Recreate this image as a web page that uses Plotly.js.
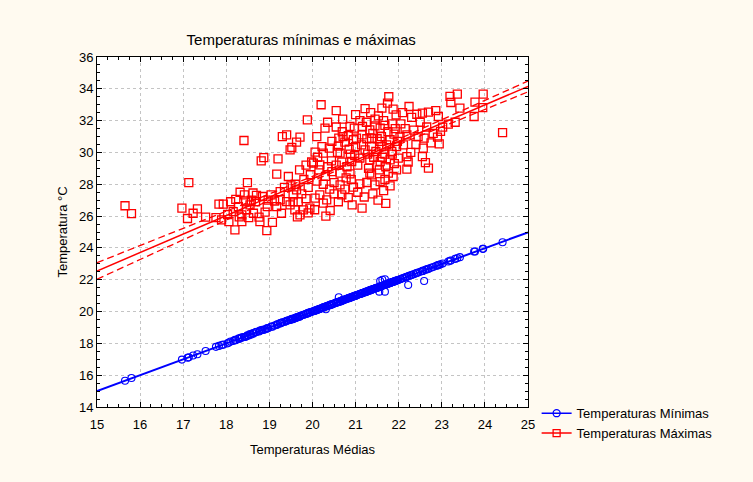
<!DOCTYPE html>
<html>
<head>
<meta charset="utf-8">
<script src="https://cdn.plot.ly/plotly-3.0.1.min.js"></script>
<style>html,body{margin:0;padding:0;background:#FFFAF0;}#chart{width:753px;height:482px;}</style>
</head>
<body>
<div id="chart"></div>
<script>
// Temperaturas médias (eixo X)
const meanTemp = [
15.65,15.80,16.97,17.13,17.10,17.23,17.33,17.52,17.83,17.93,17.76,17.89,
18.06,18.20,18.16,18.28,18.32,18.42,18.49,18.41,18.81,18.87,18.36,18.36,18.47,18.55,18.63,18.76,18.78,18.84,18.94,18.95,18.10,18.22,18.58,18.68,18.70,18.52,18.90,18.30,18.62,18.45,18.03,18.97,
19.04,19.07,19.17,19.17,19.25,19.25,19.28,19.44,19.40,19.48,19.55,19.59,19.63,19.67,19.71,19.63,19.52,19.88,19.30,19.40,19.79,19.71,19.94,19.55,19.85,19.75,19.90,19.60,19.80,19.95,19.70,19.85,19.50,19.35,19.12,19.65,19.98,19.20,19.48,19.90,
20.02,20.17,20.44,20.68,20.91,20.06,20.25,20.64,20.22,20.39,20.71,20.83,20.75,20.69,20.87,20.97,20.29,20.20,20.55,21.00,20.41,20.25,20.33,20.17,20.06,20.68,20.83,20.95,20.87,20.64,20.64,20.10,20.30,20.50,20.45,20.15,20.35,20.55,20.80,20.90,20.75,20.50,20.60,20.92,20.05,20.45,20.60,20.85,20.10,20.55,20.35,20.70,20.95,20.25,20.40,20.78,20.98,20.12,20.58,20.88,20.61,20.31,
21.10,21.33,21.57,21.80,21.99,21.00,21.14,21.22,21.37,21.47,21.61,21.72,21.84,21.95,21.16,21.33,21.45,21.57,21.68,21.26,21.37,21.50,21.89,21.77,21.74,21.61,21.53,21.87,21.94,21.22,21.10,21.26,21.45,21.57,21.37,21.76,21.95,21.33,21.87,21.05,21.20,21.40,21.65,21.80,21.15,21.52,21.70,21.30,21.50,21.70,21.90,21.05,21.15,21.40,21.60,21.80,21.25,21.45,21.65,21.85,21.10,21.35,21.57,21.68,21.62,21.55,21.68,21.75,21.92,21.02,21.28,21.42,21.85,21.97,
22.03,22.19,22.11,22.19,22.09,22.24,22.05,22.30,22.42,22.55,22.69,22.86,22.92,22.57,22.55,22.62,22.69,22.28,22.19,22.22,22.59,22.35,22.45,22.65,22.80,22.15,22.40,22.50,22.75,22.90,22.94,22.97,
23.02,23.15,23.31,23.19,23.36,23.21,23.42,23.77,23.96,23.95,23.75,24.41
];
// Temperaturas máximas (quadrados vermelhos)
const maxTemp = [
26.65,26.15,26.50,28.10,25.85,26.18,26.45,25.93,26.75,26.75,25.90,25.76,
25.65,25.13,26.28,26.60,27.50,27.33,28.10,30.75,29.47,29.68,26.08,25.65,26.39,26.70,26.18,25.93,25.65,27.23,25.09,26.60,26.90,27.05,27.00,26.90,27.30,25.90,26.25,25.95,27.45,26.95,26.10,27.00,
27.33,25.60,28.64,26.60,27.02,27.54,26.18,28.49,26.91,26.70,27.33,26.39,27.65,26.91,30.96,30.65,30.31,32.05,31.00,31.10,26.39,26.08,26.50,26.91,27.10,27.40,27.80,28.00,28.30,28.60,28.90,29.20,27.90,27.80,26.95,25.95,29.40,29.60,30.16,26.20,
29.33,29.22,29.47,29.39,29.43,30.02,29.96,29.96,30.37,30.27,31.00,31.06,30.65,31.30,31.63,31.53,31.53,33.00,32.63,32.38,26.35,26.81,27.02,27.33,27.13,27.33,27.16,27.82,28.65,27.96,28.70,28.20,28.50,28.10,28.80,28.90,29.10,29.20,29.10,28.30,27.70,27.40,26.90,26.70,26.40,30.70,30.40,30.20,31.00,31.60,31.90,32.10,30.80,28.00,27.70,28.40,29.80,29.70,30.00,29.90,30.90,26.00,
29.64,29.53,29.43,29.53,29.64,30.37,30.48,30.16,30.37,30.06,30.37,30.48,30.06,30.37,31.63,31.42,31.67,31.53,31.70,30.86,30.90,30.86,31.15,33.50,33.10,32.79,32.30,32.72,32.36,32.75,28.03,28.11,27.96,28.17,28.59,28.70,28.90,28.70,28.49,27.50,27.20,27.40,27.60,27.90,26.50,27.00,26.80,29.00,29.20,29.10,29.30,29.20,31.10,31.20,31.00,30.80,31.90,32.10,32.00,31.80,32.00,32.50,30.70,29.90,29.70,28.90,28.30,31.30,31.50,30.90,29.90,29.70,29.90,30.70,
30.96,31.10,30.48,29.74,32.50,32.89,31.80,32.20,32.40,32.47,32.53,32.63,32.26,30.27,29.74,29.36,29.01,30.00,28.95,29.40,30.90,31.40,31.00,31.60,31.20,31.50,30.50,31.90,30.60,30.96,30.54,31.32,
31.59,31.78,31.90,33.52,33.67,33.14,32.79,33.16,33.67,32.82,32.26,31.25
];
// Temperaturas mínimas (círculos azuis)
const minTemp = [
15.65,15.82,16.98,17.12,17.10,17.24,17.32,17.52,17.84,17.92,17.78,17.90,
18.05,18.22,18.15,18.30,18.33,18.40,18.50,18.40,18.82,18.85,18.38,18.35,18.45,18.58,18.62,18.75,18.80,18.85,18.92,18.96,18.12,18.20,18.55,18.70,18.72,18.50,18.88,18.28,18.65,18.42,18.00,18.95,
19.05,19.05,19.18,19.15,19.25,19.27,19.30,19.45,19.42,19.47,19.52,19.58,19.62,19.65,19.70,19.62,19.55,19.88,19.32,19.40,19.80,19.72,19.95,19.55,19.85,19.77,19.90,19.60,19.80,19.96,19.68,19.86,19.50,19.35,19.12,19.65,19.98,19.22,19.48,19.92,
20.02,20.16,20.45,20.68,20.90,20.05,20.26,20.65,20.22,20.40,20.72,20.82,20.76,20.70,20.88,20.98,20.30,20.20,20.55,21.00,20.40,20.25,20.35,20.18,20.05,20.68,20.85,20.95,20.86,20.65,20.62,20.10,20.30,20.50,20.46,20.15,20.35,20.56,20.80,20.90,20.75,20.50,20.60,20.93,20.06,20.45,20.62,20.85,20.10,20.56,20.36,20.70,20.96,20.25,20.42,20.78,20.98,20.12,20.58,20.88,20.90,20.14,
21.10,21.33,21.56,21.80,21.98,21.00,21.14,21.22,21.38,21.47,21.62,21.72,21.84,21.95,21.16,21.34,21.45,21.57,21.68,21.26,21.37,21.50,21.88,21.77,21.74,21.61,21.52,21.87,21.94,21.22,21.10,21.26,21.45,21.58,21.37,21.76,21.95,21.33,21.87,21.05,21.20,21.40,21.65,21.80,21.15,21.52,21.70,21.30,21.50,21.70,21.90,21.05,21.15,21.40,21.60,21.80,21.25,21.45,21.65,21.85,21.10,21.35,21.92,22.03,22.00,21.25,21.25,21.75,21.92,21.02,21.28,21.42,21.85,21.97,
22.03,22.19,22.11,22.19,22.09,22.24,22.05,22.30,22.42,22.55,22.69,22.86,22.92,22.57,22.55,22.62,22.69,22.28,22.19,21.67,21.92,22.35,22.45,22.65,22.80,22.15,22.40,22.50,22.75,22.90,22.94,22.97,
23.02,23.15,23.31,23.19,23.36,23.21,23.42,23.77,23.94,23.94,23.77,24.36
];
// Retas de regressão e intervalos de confiança
const fitX      = [15, 16, 17, 18, 19, 20, 21, 22, 23, 24, 25];
const maxFit    = [22.55,23.71,24.87,26.03,27.19,28.35,29.51,30.67,31.83,32.99,34.15];
const maxUpper  = [23.07,24.14,25.22,26.30,27.39,28.50,29.64,30.84,32.04,33.26,34.49];
const maxLower  = [22.03,23.28,24.52,25.76,26.99,28.20,29.38,30.50,31.62,32.72,33.81];
const minFitX   = [15, 25];
const minFit    = [15.00, 24.98];

const xTicks = [15,16,17,18,19,20,21,22,23,24,25];
const yTicks = [14,16,18,20,22,24,26,28,30,32,34,36];
const seriesNames = ['Temperaturas Mínimas', 'Temperaturas Máximas'];

const RED = '#FF0000', BLUE = '#0000FF';
const font = 'Liberation Sans, Arial, sans-serif';

const traces = [
  {x: meanTemp, y: maxTemp, mode: 'markers', type: 'scatter', showlegend: false,
   marker: {symbol: 'square-open', size: 8, color: RED, line: {width: 1.3, color: RED}}},
  {x: fitX, y: maxFit, mode: 'lines', showlegend: false, line: {color: RED, width: 1.5}},
  {x: fitX, y: maxUpper, mode: 'lines', showlegend: false, line: {color: RED, width: 1.3, dash: '7px,4px'}},
  {x: fitX, y: maxLower, mode: 'lines', showlegend: false, line: {color: RED, width: 1.3, dash: '7px,4px'}},
  {x: meanTemp, y: minTemp, mode: 'markers', type: 'scatter', showlegend: false,
   marker: {symbol: 'circle-open', size: 7, color: BLUE, line: {width: 1.1, color: BLUE}}},
  {x: minFitX, y: minFit, mode: 'lines', showlegend: false, line: {color: BLUE, width: 2}},
  {x: [null], y: [null], mode: 'lines+markers', name: seriesNames[0],
   line: {color: BLUE, width: 1.5}, marker: {symbol: 'circle-open', size: 7, color: BLUE, line: {width: 1.3, color: BLUE}}},
  {x: [null], y: [null], mode: 'lines+markers', name: seriesNames[1],
   line: {color: RED, width: 1.5}, marker: {symbol: 'square-open', size: 7, color: RED, line: {width: 1.3, color: RED}}}
];

const axisCommon = {
  showline: true, linecolor: '#000', linewidth: 1, mirror: 'allticks',
  ticks: 'inside', ticklen: 5, tickcolor: '#000', tickwidth: 1,
  showgrid: true, gridcolor: '#C4C4C4', griddash: 'dot', gridwidth: 1,
  zeroline: false, tickfont: {family: font, size: 13, color: '#000'}
};

const layout = {
  width: 753, height: 482,
  paper_bgcolor: '#FFFAF0', plot_bgcolor: '#FFFFFF',
  margin: {l: 97, r: 225, t: 57, b: 75},
  font: {family: font, color: '#000'},
  title: {text: 'Temperaturas mínimas e máximas', font: {family: font, size: 15, color: '#000'},
          x: 0.4, xref: 'container', xanchor: 'center', y: 0.917, yanchor: 'middle'},
  xaxis: Object.assign({}, axisCommon, {
    range: [15, 25], tickvals: xTicks, ticktext: xTicks.map(String), ticklabelstandoff: 5,
    minor: {dtick: 0.25, ticks: 'inside', ticklen: 3, tickcolor: '#000', showgrid: false},
    title: {text: 'Temperaturas Médias', font: {family: font, size: 13}, standoff: 14}
  }),
  yaxis: Object.assign({}, axisCommon, {
    range: [14, 36], tickvals: yTicks, ticktext: yTicks.map(String),
    minor: {dtick: 0.5, ticks: 'inside', ticklen: 3, tickcolor: '#000', showgrid: false},
    title: {text: 'Temperatura °C', font: {family: font, size: 13}, standoff: 8}
  }),
  legend: {x: 1.02, xanchor: 'left', y: 0.025, yanchor: 'top', bgcolor: 'rgba(0,0,0,0)',
           font: {family: font, size: 13, color: '#000'}, traceorder: 'normal',
           itemwidth: 30, tracegroupgap: 0},
  showlegend: true
};

Plotly.newPlot('chart', traces, layout, {displayModeBar: false, staticPlot: true});
</script>
</body>
</html>
